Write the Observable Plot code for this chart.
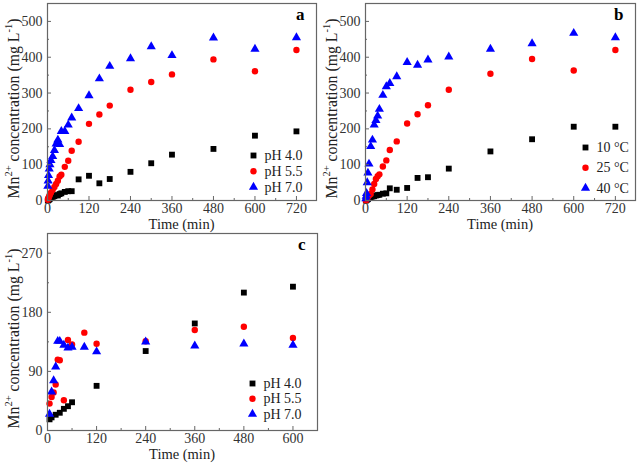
<!DOCTYPE html>
<html><head><meta charset="utf-8">
<script src="https://cdn.jsdelivr.net/npm/d3@7"></script>
<script src="https://cdn.jsdelivr.net/npm/@observablehq/plot@0.6"></script>
<style>
body{margin:0;background:#fff;}
#wrap{position:relative;width:638px;height:465px;background:#fff;overflow:hidden;}
#wrap svg{position:absolute;font-family:"Liberation Serif","Times New Roman",serif;}
</style></head>
<body><div id="wrap"></div>
<script>
// ---------- Panel a: effect of pH ----------
const aT4 = [1,2,3,5,7,10,15,20,25,30,35,40,50,60,70,90,120,150,180,240,300,360,480,600,720];
const aY4 = [0,1,2,3,5,7,10,12,15,14,18,20,24,26,26,59,69,48,60,80,104,128,144,181,193];
const aT55 = [1,2,3,5,7,10,15,20,25,30,35,40,50,60,70,90,120,150,180,240,300,360,480,600,720];
const aY55 = [2,5,8,12,17,22,30,38,46,55,67,72,94,111,139,164,214,240,265,309,331,352,394,361,420];
const aT7 = [1,2,3,5,7,10,15,20,25,30,35,40,50,60,70,90,120,150,180,240,300,360,480,600,720];
const aY7 = [40,55,70,88,100,112,123,140,158,169,157,193,193,211,231,257,293,340,375,396,430,405,454,423,455];
// ---------- Panel b: effect of temperature ----------
const bT = [1,2,3,5,7,10,15,20,25,30,35,40,50,60,70,90,120,150,180,240,360,480,600,720];
const bY10 = [0,1,2,3,4,7,9,11,12,14,15,16,19,20,34,30,35,63,65,89,137,171,206,206];
const bY25 = [0,2,4,7,10,14,18,31,46,60,68,73,95,112,141,165,215,241,266,309,354,395,363,420];
const bY40 = [5,12,20,50,77,102,151,169,211,224,236,255,294,318,327,346,386,378,393,401,423,438,467,455];
// ---------- Panel c ----------
const cT4 = [5,10,20,30,40,50,60,120,240,360,480,600];
const cY4 = [17,20,24,27,33,37,43,68,121,163,210,219];
const cT55 = [5,10,15,20,25,30,40,50,60,90,120,240,360,480,600];
const cY55 = [41,51,58,70,108,107,46,138,131,149,132,136,153,158,141];
const cT7 = [5,10,15,20,25,30,40,50,60,90,120,240,360,480,600];
const cY7 = [25,59,76,97,136,136,130,126,127,127,120,135,129,132,130];

const labelsPH = ["pH 4.0","pH 5.5","pH 7.0"];
const labelsT = ["10 °C","25 °C","40 °C"];
const xTicksA = [0,120,240,360,480,600,720];
const xTicksC = [0,120,240,360,480,600];
const yTicksA = [0,100,200,300,400,500];
const yTicksC = [0,90,180,270];

const symbols = ["square","circle","triangle"];
const colors = ["#000000","#ff0000","#0000ff"];
const radii = [3.3,3.2,3.4];

function zip(t,y){return t.map((d,i)=>({t:d,v:y[i]}));}

function panel(o){
  const W=320, H=233;
  const mL=47, mT=o.mTop, mB=H-o.bottom, mR=W-o.right;
  const minorX = d3.range(o.xTicks[0]+o.xStep/2, o.xDomain[1], o.xStep);
  const minorY = d3.range(o.yTicks[0]+o.yStep/2, o.yDomain[1], o.yStep);
  const marks = [];
  o.series.forEach((s,i)=>{
    marks.push(Plot.dot(zip(s[0],s[1]),{x:"t",y:"v",symbol:()=>symbols[i],fill:colors[i],stroke:"none",r:radii[i]}));
  });
  marks.push(
    Plot.frame({stroke:"#666",strokeWidth:1.2}),
    Plot.axisX({ticks:o.xTicks,tickSize:-4,stroke:"#666",text:null,label:null}),
    Plot.axisX({ticks:minorX,tickSize:-2,stroke:"#666",text:null,label:null}),
    Plot.axisX({ticks:o.xTicks,tickSize:0,tickPadding:3,fontSize:14,fill:"#333",label:null}),
    Plot.axisY({ticks:o.yTicks,tickSize:-4,stroke:"#666",text:null,label:null}),
    Plot.axisY({ticks:minorY,tickSize:-2,stroke:"#666",text:null,label:null}),
    Plot.axisY({ticks:o.yTicks,tickSize:0,tickPadding:5,fontSize:14,fill:"#333",label:null}),
    Plot.text([o.letter],{frameAnchor:"top-right",text:d=>d,dx:-12,dy:4,fontSize:17,fontWeight:"bold",fill:"#000"})
  );
  o.legend.forEach((lab,i)=>{
    marks.push(
      Plot.dot([lab],{frameAnchor:"top-left",dx:o.legX,dy:o.legY+i*o.legStep,symbol:()=>symbols[i],fill:colors[i],r:radii[i]}),
      Plot.text([lab],{frameAnchor:"top-left",dx:o.legX+11,dy:o.legY+i*o.legStep,text:d=>d,textAnchor:"start",lineAnchor:"middle",fontSize:14,fill:"#222"})
    );
  });
  const svg = Plot.plot({
    width:W,height:H,marginLeft:mL,marginTop:mT,marginBottom:mB,marginRight:mR,
    style:{fontFamily:"Liberation Serif, serif",background:"transparent",overflow:"visible"},
    x:{domain:o.xDomain},y:{domain:o.yDomain},
    marks
  });
  svg.style.left=o.left+"px"; svg.style.top=o.top+"px";
  const s = d3.select(svg);
  // x label
  s.append("text").attr("x",(mL+(W-mR))/2).attr("y",o.bottom+28.5)
    .attr("text-anchor","middle").attr("font-size",14.5).attr("fill","#222").text("Time (min)");
  // y label with superscripts
  const cy=(mT+o.bottom)/2+7;
  const yl = s.append("text").attr("transform",`translate(18.5,${cy}) rotate(-90)`)
    .attr("text-anchor","middle").attr("font-size",15.8).attr("fill","#222");
  yl.append("tspan").text("Mn");
  yl.append("tspan").attr("dy",-6.5).attr("font-size",10.5).text("2+");
  yl.append("tspan").attr("dy",6.5).text(" concentration (mg L");
  yl.append("tspan").attr("dy",-6.5).attr("font-size",10.5).text("-1");
  yl.append("tspan").attr("dy",6.5).text(")");
  document.getElementById("wrap").appendChild(svg);
}

panel({series:[[aT4,aY4],[aT55,aY55],[aT7,aY7]],xDomain:[0,778],yDomain:[0,550],xTicks:xTicksA,xStep:120,yTicks:yTicksA,yStep:100,
  mTop:3,bottom:200,right:316,left:0,top:0,letter:"a",legend:labelsPH,legX:206,legY:152,legStep:15.8});
panel({series:[[bT,bY10],[bT,bY25],[bT,bY40]],xDomain:[0,778],yDomain:[0,550],xTicks:xTicksA,xStep:120,yTicks:yTicksA,yStep:100,
  mTop:3,bottom:200,right:317,left:318,top:0,letter:"b",legend:labelsT,legX:220,legY:144,legStep:20.3});
panel({series:[[cT4,cY4],[cT55,cY55],[cT7,cY7]],xDomain:[0,660],yDomain:[0,300],xTicks:xTicksC,xStep:120,yTicks:yTicksC,yStep:90,
  mTop:3,bottom:200,right:317,left:0,top:230,letter:"c",legend:labelsPH,legX:205,legY:150,legStep:15.3});
</script></body></html>
